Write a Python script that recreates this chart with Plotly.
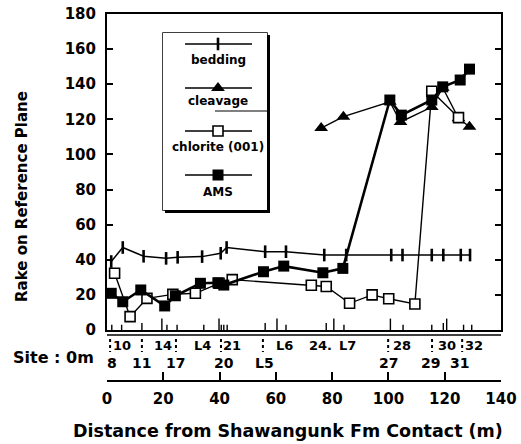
import plotly.graph_objects as go

# ---------------- data ----------------
bedding_x = [1.5, 5.6, 13, 21, 25.1, 33.8, 40.4, 42.5, 56.2, 63.6, 77.2, 85, 101, 105, 115.4, 119.5, 125.7, 129]
bedding_y = [39, 47, 42, 40.8, 41.4, 41.8, 43.7, 47, 44.6, 44.6, 42.7, 42.7, 42.7, 42.7, 42.7, 42.7, 42.7, 42.7]

cleavage_x = [76.1, 84, 100.5, 104.3, 115.4, 119.3, 124.9, 128.8]
cleavage_y = [115, 121.5, 130, 118.5, 127, 138, 120.6, 115.8]

chlorite_x = [2.7, 8.2, 14.2, 23.4, 31.4, 39.8, 44.5, 72.6, 77.9, 86.2, 94.2, 100.1, 109.4, 115.4, 124.9]
chlorite_y = [32.3, 7.6, 18, 20.3, 20.9, 26.6, 28.7, 25.5, 24.8, 15.2, 20, 17.8, 14.8, 136, 121]

ams_x = [1.5, 5.6, 12.0, 20.5, 24.3, 33.2, 39.4, 41.5, 55.6, 62.8, 76.7, 83.8, 100.5, 104.6, 115.4, 119.3, 125.5, 128.8]
ams_y = [20.9, 16.1, 22.8, 13.7, 19.5, 26.6, 26.9, 25.6, 33.2, 36.4, 32.6, 35.1, 131, 122.4, 131, 138.5, 142.4, 148.6]

# site ticks along the bottom of the plot (distance, tick height)
site_tick_x = [1.7, 5.2, 12.4, 19.5, 21.3, 24.9, 34.4, 39.8, 40.6, 41.5, 42.7, 56.2, 60.4, 63.6,
               77.9, 80.6, 84.2, 100.7, 105.2, 115.4, 119.5, 120.7, 126.7, 129.6]
site_tick_h = [3, 3, 4, 6.5, 3, 3, 3, 6.5, 3, 3, 3, 4, 6.5, 3,
               4, 6.5, 3, 6.5, 3, 3, 4, 6.5, 3, 3]

# site labels: upper row and lower row (lower-row sites are also marked by dotted dividers)
site_row1 = ["10", "14", "L4", "21", "L6", "24.", "L7", "28", "30", "32"]
site_row1_x = [5.3, 19.9, 34.1, 44.4, 62.9, 76.0, 85.3, 104.8, 120.8, 130.4]
site_row2 = ["8", "11", "17", "20", "L5", "27", "29", "31"]
site_row2_x = [1.8, 12.4, 24.2, 41.6, 55.8, 99.9, 115.1, 125.1]
divider_x = [1.1, 12.4, 24.5, 40.5, 55.4, 99.9, 115.5, 126.2]

y_ticks = [0, 20, 40, 60, 80, 100, 120, 140, 160, 180]
x_ticks = [0, 20, 40, 60, 80, 100, 120, 140]

legend_names = ["bedding", "cleavage", "chlorite (001)", "AMS"]

# ---------------- styles / geometry ----------------
FONT = "DejaVu Sans"
BLACK = "black"

W, H = 521, 444
PLOT_L, PLOT_R = 107, 501      # pixel extents of the plotting area
PAPER_T, PAPER_B = 14, 381
L, T = PLOT_L, PAPER_T
PW, PH = PLOT_R - PLOT_L, PAPER_B - PAPER_T
R, B = W - L - PW, H - T - PH


def px_x(px):
    return (px - PLOT_L) / PW


def px_y(py):
    return (PAPER_B - py) / PH


styles = {
    "bedding": dict(mode="lines+markers", line=dict(color=BLACK, width=1.5),
                    marker=dict(symbol="line-ns", size=9, line=dict(color=BLACK, width=2.6))),
    "cleavage": dict(mode="lines+markers", line=dict(color=BLACK, width=1.4),
                     marker=dict(symbol="triangle-up", size=12, color=BLACK)),
    "chlorite (001)": dict(mode="lines+markers", line=dict(color=BLACK, width=1.4),
                           marker=dict(symbol="square", size=10, color="white",
                                       line=dict(color=BLACK, width=1.6))),
    "AMS": dict(mode="lines+markers", line=dict(color=BLACK, width=2.6),
                marker=dict(symbol="square", size=11, color=BLACK)),
}

fig = go.Figure()

# site ticks
tx, ty = [], []
for x, h in zip(site_tick_x, site_tick_h):
    tx += [x, x, None]
    ty += [0, h, None]
fig.add_trace(go.Scatter(x=tx, y=ty, mode="lines", line=dict(color=BLACK, width=1.4),
                         showlegend=False, hoverinfo="skip"))

series = [("bedding", bedding_x, bedding_y), ("cleavage", cleavage_x, cleavage_y),
          ("chlorite (001)", chlorite_x, chlorite_y), ("AMS", ams_x, ams_y)]
for name, xs, ys in series:
    fig.add_trace(go.Scatter(x=xs, y=ys, name=name, showlegend=False, cliponaxis=False,
                             **styles[name]))

# custom legend on its own pixel-like axes
leg_x0, leg_x1, leg_y0, leg_y1 = 163, 267, 33, 210
leg_line_y = [44, 88, 131, 175]
leg_text_y = [60, 101, 147, 192]
for name, ly in zip(legend_names, leg_line_y):
    st = styles[name]
    fig.add_trace(go.Scatter(x=[185, 218, 252], y=[ly, ly, ly], mode="lines",
                             line=dict(color=BLACK, width=1.3), xaxis="x3", yaxis="y3",
                             showlegend=False, hoverinfo="skip"))
    fig.add_trace(go.Scatter(x=[218], y=[ly], mode="markers", marker=st["marker"],
                             xaxis="x3", yaxis="y3", showlegend=False, hoverinfo="skip"))

shapes = [
    # legend shadow + box
    dict(type="rect", xref="paper", yref="paper", x0=px_x(leg_x0 + 2), x1=px_x(leg_x1 + 3),
         y0=px_y(leg_y1 + 3), y1=px_y(leg_y0 + 2), fillcolor=BLACK, line=dict(width=0), layer="below"),
    dict(type="rect", xref="paper", yref="paper", x0=px_x(leg_x0), x1=px_x(leg_x1),
         y0=px_y(leg_y1), y1=px_y(leg_y0), fillcolor="white", line=dict(color=BLACK, width=1.5),
         layer="below"),
    dict(type="line", xref="paper", yref="paper", x0=px_x(215), x1=px_x(270),
         y0=px_y(111), y1=px_y(111), line=dict(color=BLACK, width=1.2)),
    # second rule under the plot box
    dict(type="line", xref="paper", yref="paper", x0=0, x1=1,
         y0=px_y(335), y1=px_y(335), line=dict(color=BLACK, width=1.6)),
]
for x in divider_x:
    shapes.append(dict(type="line", xref="x", yref="paper", x0=x, x1=x,
                       y0=px_y(339), y1=px_y(352), line=dict(color=BLACK, width=2, dash="dot")))

annotations = []
for name, ly in zip(legend_names, leg_text_y):
    annotations.append(dict(text=name, xref="paper", yref="paper", x=px_x(218), y=px_y(ly),
                            showarrow=False, font=dict(family=FONT, size=12, color=BLACK, weight="bold"),
                            xanchor="center", yanchor="middle"))
for lab, x in zip(site_row1, site_row1_x):
    annotations.append(dict(text=lab, xref="x", yref="paper", x=x, y=px_y(345), showarrow=False,
                            font=dict(family=FONT, size=13, color=BLACK, weight="bold"),
                            xanchor="center", yanchor="middle"))
for lab, x in zip(site_row2, site_row2_x):
    annotations.append(dict(text=lab, xref="x", yref="paper", x=x, y=px_y(363), showarrow=False,
                            font=dict(family=FONT, size=14, color=BLACK, weight="bold"),
                            xanchor="center", yanchor="middle"))
annotations.append(dict(text="Site : 0m", xref="paper", yref="paper", x=px_x(53), y=px_y(357),
                        showarrow=False, font=dict(family=FONT, size=16, color=BLACK, weight="bold"),
                        xanchor="center", yanchor="middle"))
annotations.append(dict(text="Rake on Reference Plane", xref="paper", yref="paper", x=px_x(22),
                        y=px_y(197), showarrow=False, textangle=-90,
                        font=dict(family=FONT, size=15, color=BLACK, weight="bold"),
                        xanchor="center", yanchor="middle"))
annotations.append(dict(text="Distance from Shawangunk Fm Contact (m)", xref="paper", yref="paper",
                        x=px_x(288), y=px_y(431), showarrow=False,
                        font=dict(family=FONT, size=17.5, color=BLACK, weight="bold"),
                        xanchor="center", yanchor="middle"))

tickfont = dict(family=FONT, size=15, color=BLACK, weight="bold")

fig.update_layout(
    width=W, height=H, margin=dict(l=L, r=R, t=T, b=B, autoexpand=False),
    paper_bgcolor="white", plot_bgcolor="white",
    showlegend=False,
    xaxis=dict(range=[0, 140], showline=True, linecolor=BLACK, linewidth=2, mirror=True,
               showgrid=False, zeroline=False, ticks="", showticklabels=False, anchor="y",
               automargin=False),
    yaxis=dict(range=[0, 180], domain=[px_y(330), 1], showline=True, linecolor=BLACK, linewidth=2,
               mirror="ticks", ticks="inside", ticklen=6, tickwidth=1.5, tickcolor=BLACK,
               tickvals=y_ticks, showgrid=False, zeroline=False, tickfont=tickfont,
               ticklabelstandoff=6, automargin=False, ticklabeloverflow="allow"),
    xaxis2=dict(range=[0, 140], overlaying="x", anchor="free", position=0, side="bottom",
                showline=True, linecolor=BLACK, linewidth=2, ticks="inside", ticklen=8,
                tickwidth=2, tickcolor=BLACK, tickvals=x_ticks, showgrid=False, zeroline=False,
                tickfont=tickfont, ticklabelstandoff=4, automargin=False, ticklabeloverflow="allow"),
    xaxis3=dict(domain=[px_x(leg_x0), px_x(leg_x1)], range=[leg_x0, leg_x1], visible=False,
                anchor="y3", fixedrange=True, automargin=False),
    yaxis3=dict(domain=[px_y(leg_y1), px_y(leg_y0)], range=[leg_y1, leg_y0], visible=False,
                anchor="x3", fixedrange=True, automargin=False),
    shapes=shapes, annotations=annotations,
)

# dummy trace so xaxis2 is drawn
fig.add_trace(go.Scatter(x=[0, 140], y=[None, None], xaxis="x2", yaxis="y", showlegend=False,
                         hoverinfo="skip"))

fig.write_html("out.html", config={"displayModeBar": False},
               post_script="document.body.style.margin='0';")
